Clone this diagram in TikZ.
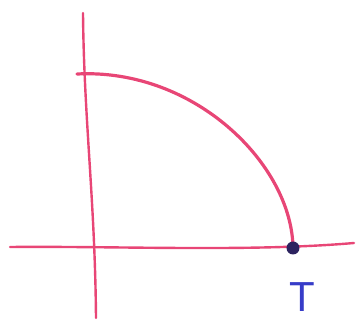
\documentclass[tikz,border=0pt]{standalone}
\usepackage{fontspec}
\setmainfont{Liberation Sans}
\definecolor{penpink}{RGB}{232,70,118}
\definecolor{pendot}{RGB}{45,35,95}
\definecolor{penblue}{RGB}{55,60,200}
\tikzset{
  pen/.style={draw=penpink, line width=3.2pt, line cap=round, line join=round},
  axis/.style={draw=penpink, line width=2.4pt, line cap=round},
  dotmark/.style={circle, fill=pendot, inner sep=0pt, minimum size=13pt},
  lbl/.style={text=penblue, font=\fontsize{42}{42}\selectfont, inner sep=0pt}
}
\begin{document}
\begin{tikzpicture}[x=1pt,y=-1pt]
\useasboundingbox (0,0) rectangle (360,323);
% axes
\coordinate (vtop) at (83,13);
\coordinate (vbot) at (96,318);
\coordinate (hleft) at (10,247);
\coordinate (hright) at (354,243);
\draw[axis] (vtop) .. controls (84,120) and (95,200) .. (vbot);
\draw[axis] (hleft) .. controls (120,246) and (250,252) .. (hright);
% arc
\coordinate (astart) at (77,74);
\coordinate (tpt) at (293,248);
\draw[pen] (astart) .. controls (195,68) and (292,165) .. (tpt);
\node[dotmark] (dot) at (tpt) {};
% label
\node[lbl] (Tl) at (302,297) {T};
\end{tikzpicture}
\end{document}
